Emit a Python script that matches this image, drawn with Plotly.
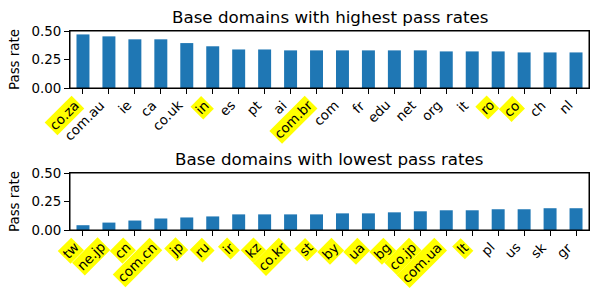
import plotly.graph_objects as go
from plotly.subplots import make_subplots

top_domains = ["co.za", "com.au", "ie", "ca", "co.uk", "in", "es", "pt", "ai", "com.br",
               "com", "fr", "edu", "net", "org", "it", "ro", "co", "ch", "nl"]
top_rates = [0.470, 0.453, 0.427, 0.427, 0.394, 0.366, 0.338, 0.338, 0.330, 0.330,
             0.330, 0.330, 0.330, 0.330, 0.321, 0.321, 0.321, 0.312, 0.312, 0.312]
top_highlight = ["co.za", "in", "com.br", "ro", "co"]

low_domains = ["tw", "ne.jp", "cn", "com.cn", "jp", "ru", "ir", "kz", "co.kr", "st",
               "by", "ua", "bg", "co.jp", "com.ua", "lt", "pl", "us", "sk", "gr"]
low_rates = [0.042, 0.065, 0.083, 0.101, 0.110, 0.119, 0.137, 0.137, 0.137, 0.137,
             0.146, 0.146, 0.155, 0.164, 0.173, 0.173, 0.182, 0.182, 0.191, 0.191]
low_highlight = ["tw", "ne.jp", "cn", "com.cn", "jp", "ru", "ir", "kz", "co.kr", "st",
                 "by", "ua", "bg", "co.jp", "com.ua", "lt"]

y_ticks = [0, 0.25, 0.5]
titles = ["Base domains with highest pass rates", "Base domains with lowest pass rates"]

FONT = "DejaVu Sans"
TICK_PX = 13.4
TITLE_PX = 16.7
BLUE = "#1f77b4"

W, H = 598, 289
ML, MR, MT, MB = 70, 9, 31, 59
PH = H - MT - MB  # plot area height
AX_H = 57

fig = make_subplots(rows=2, cols=1)

panels = [(top_domains, top_rates, top_highlight), (low_domains, low_rates, low_highlight)]
for i, (doms, rates, hl) in enumerate(panels, start=1):
    fig.add_trace(go.Bar(x=list(range(len(doms))), y=rates, marker=dict(color=BLUE, line=dict(width=0)),
                         width=0.5, showlegend=False, hoverinfo="skip"), row=i, col=1)
    xa = "x" if i == 1 else "x2"
    ya = "y" if i == 1 else "y2"
    for j, d in enumerate(doms):
        fig.add_annotation(
            x=j, y=0, xref=xa, yref=ya + " domain", text=d, showarrow=False,
            textangle=-45, xanchor="right", yanchor="top", yshift=-7, xshift=2,
            font=dict(family=FONT, size=TICK_PX, color="black"),
            bgcolor="yellow" if d in hl else "rgba(0,0,0,0)", borderpad=1,
        )
    # axes frame (all four spines)
    fig.add_shape(type="rect", xref=xa + " domain", yref=ya + " domain",
                  x0=0, x1=1, y0=0, y1=1, line=dict(color="black", width=1),
                  fillcolor="rgba(0,0,0,0)", layer="above")

dom_top = [1 - AX_H / PH, 1]
dom_bot = [0, AX_H / PH]
axis_common = dict(showline=True, linecolor="black", linewidth=1, mirror=True,
                   ticks="outside", ticklen=4.9, tickwidth=1, tickcolor="black",
                   showgrid=False, zeroline=False, automargin=False,
                   tickfont=dict(family=FONT, size=TICK_PX, color="black"))
for i, dom in [(1, dom_top), (2, dom_bot)]:
    sfx = "" if i == 1 else str(i)
    fig.layout["xaxis" + sfx].update(range=[-0.5, 19.5], domain=[0, 1],
                                     tickvals=list(range(20)), showticklabels=False,
                                     anchor="y" + sfx, **axis_common)
    fig.layout["yaxis" + sfx].update(range=[0, 0.5], domain=dom, tickvals=y_ticks,
                                     tickformat=".2f", anchor="x" + sfx,
                                     title=dict(text="Pass rate", standoff=8,
                                                font=dict(family=FONT, size=TICK_PX, color="black")),
                                     **axis_common)

for k, (t, dom) in enumerate(zip(titles, [dom_top, dom_bot])):
    fig.add_annotation(x=0.5, y=dom[1], xref="paper", yref="paper", text=t, showarrow=False,
                       xanchor="center", yanchor="bottom", yshift=2,
                       font=dict(family=FONT, size=TITLE_PX, color="black"))

fig.update_layout(width=W, height=H, margin=dict(l=ML, r=MR, t=MT, b=MB, autoexpand=False),
                  paper_bgcolor="white", plot_bgcolor="white", bargap=0.5,
                  font=dict(family=FONT, color="black"), hovermode=False)

fig.write_html("out.html", config={"displayModeBar": False},
               post_script="document.body.style.margin='0';")
